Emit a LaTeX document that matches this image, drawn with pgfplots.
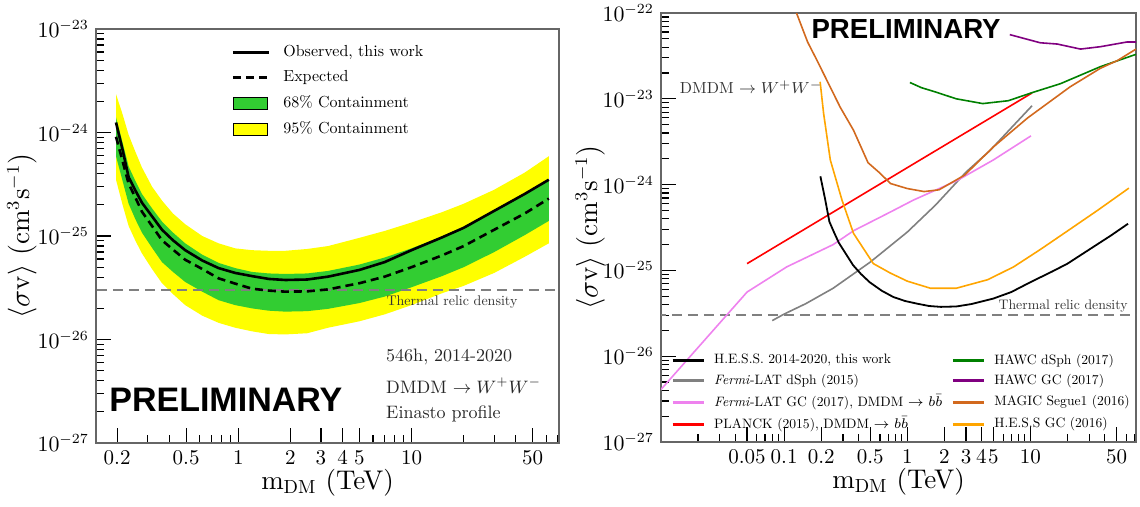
\documentclass[border=0pt]{standalone}
\usepackage{fontspec}
\setmainfont{lmroman10-regular}[Extension=.otf, BoldFont=lmroman10-bold,
  ItalicFont=lmroman10-italic, BoldItalicFont=lmroman10-bolditalic]
\usepackage{pgfplots}
\usepackage{pgfplotstable}
\pgfplotsset{compat=1.18}
\newfontfamily\prelim{Liberation Sans}

\definecolor{hgreen}{RGB}{50,205,50}
\definecolor{hyellow}{RGB}{255,255,0}
\definecolor{relic}{RGB}{128,128,128}
\definecolor{fdsph}{RGB}{128,128,128}
\definecolor{fgc}{RGB}{238,130,238}
\definecolor{planck}{RGB}{255,0,0}
\definecolor{hawcd}{RGB}{0,128,0}
\definecolor{hawcgc}{RGB}{128,0,128}
\definecolor{magic}{RGB}{210,105,30}
\definecolor{hessgc}{RGB}{255,165,0}

% H.E.S.S. limits: observed and expected
\pgfplotstableread{
m     O        E
0.197 1.25e-24 9.1e-25
0.215 6.8e-25  5.3e-25
0.233 3.7e-25  3.2e-25
0.255 2.75e-25 2.35e-25
0.278 2.1e-25  1.72e-25
0.318 1.55e-25 1.25e-25
0.363 1.15e-25 9.1e-26
0.42  9.1e-26  7.4e-26
0.494 7.3e-26  5.9e-26
0.62  5.8e-26  4.8e-26
0.77  4.9e-26  3.9e-26
0.96  4.4e-26  3.47e-26
1.2   4.1e-26  3.1e-26
1.5   3.85e-26 2.97e-26
1.87  3.76e-26 2.9e-26
2.5   3.8e-26  2.92e-26
3.3   4.05e-26 3.05e-26
5     4.7e-26  3.5e-26
7     5.6e-26  4.05e-26
10    7.3e-26  5.0e-26
15    9.7e-26  6.5e-26
20    1.2e-25  8.0e-26
30    1.75e-25 1.15e-25
45    2.55e-25 1.65e-25
62    3.5e-25  2.3e-25
}\hessdata

\pgfplotsset{
  every axis/.append style={
    scale only axis, anchor=south west,
    axis line style={draw=black!60, line width=0.6pt},
    tick align=inside, tick pos=left,
    major tick length=7.5pt, minor tick length=4pt,
    tick style={black, line width=0.6pt},
    tick label style={font=\fontsize{10.5}{12.5}\selectfont},
    label style={font=\fontsize{13.5}{16}\selectfont},
    legend cell align=left,
  },
}

\begin{document}
\begin{tikzpicture}
\useasboundingbox (0,0) rectangle (570pt,253.5pt);

% ---------------- left panel ----------------
\begin{axis}[xmode=log, ymode=log,
  at={(48pt,32pt)}, width=231.5pt, height=207pt,
  xmin=0.151, xmax=71, ymin=1e-27, ymax=1e-23,
  xtick={0.2,0.5,1,2,3,4,5,10,50},
  xticklabels={0.2,0.5,1,2,3,4,5,10,50},
  minor xtick={0.3,0.4,0.6,0.7,0.8,0.9,6,7,8,9,20,30,40,60,70},
  xlabel={$\mathrm{m}_{\mathrm{DM}}$ (TeV)},
  ylabel={$\langle\sigma\mathrm{v}\rangle\ (\mathrm{cm}^3\mathrm{s}^{-1})$},
  xlabel style={at={(axis description cs:0.5,-0.095)}, anchor=center},
  ylabel style={at={(axis description cs:-0.16,0.5)}, anchor=center},
  legend style={draw=none, fill=none, at={(axis description cs:0.279,0.982)},
    anchor=north west, font=\fontsize{8}{9.6}\selectfont, row sep=0.9pt,
    nodes={inner sep=2.3pt},
    /tikz/every odd column/.append style={column sep=4.2pt}},
  legend image code/.code={\draw[#1] (0pt,0pt) -- (18pt,0pt);},
]
\addlegendimage{black, line width=1.4pt}
\addlegendentry{Observed, this work}
\addlegendimage{black, line width=1.4pt, dash pattern=on 4pt off 2.5pt}
\addlegendentry{Expected}
\addlegendimage{area legend, fill=hgreen, draw=none}
\addlegendentry{68\% Containment}
\addlegendimage{area legend, fill=hyellow, draw=none}
\addlegendentry{95\% Containment}

% 95% band
\addplot[fill=hyellow, draw=none, forget plot] coordinates {
 (0.197,2.35e-24) (0.215,1.5e-24) (0.233,9.5e-25) (0.255,6.5e-25) (0.278,4.6e-25)
 (0.318,3.0e-25) (0.363,2.2e-25) (0.42,1.65e-25) (0.494,1.3e-25) (0.62,1.0e-25)
 (0.77,8.5e-26) (0.96,7.6e-26) (1.2,7.3e-26) (1.5,7.2e-26) (1.87,7.2e-26)
 (2.5,7.5e-26) (3.3,8.0e-26) (5,9.6e-26) (7,1.12e-25) (10,1.35e-25)
 (15,1.7e-25) (20,2.05e-25) (30,2.8e-25) (45,4.1e-25) (62,5.9e-25)
 (62,8.5e-26) (45,6.3e-26) (30,4.4e-26) (20,3.3e-26) (15,2.8e-26)
 (10,2.15e-26) (7,1.75e-26) (5,1.5e-26) (3.3,1.3e-26) (2.5,1.15e-26)
 (1.87,1.12e-26) (1.5,1.13e-26) (1.2,1.2e-26) (0.96,1.3e-26) (0.77,1.45e-26)
 (0.62,1.7e-26) (0.494,2.15e-26) (0.42,2.75e-26) (0.363,3.5e-26) (0.318,4.8e-26)
 (0.278,6.8e-26) (0.255,9.0e-26) (0.233,1.25e-25) (0.215,2.0e-25) (0.197,3.5e-25)
} -- cycle;
% 68% band
\addplot[fill=hgreen, draw=none, forget plot] coordinates {
 (0.197,1.4e-24) (0.215,8.0e-25) (0.233,4.7e-25) (0.255,3.4e-25) (0.278,2.55e-25)
 (0.318,1.85e-25) (0.363,1.38e-25) (0.42,1.08e-25) (0.494,8.5e-26) (0.62,6.6e-26)
 (0.77,5.5e-26) (0.96,4.9e-26) (1.2,4.5e-26) (1.5,4.35e-26) (1.87,4.3e-26)
 (2.5,4.35e-26) (3.3,4.6e-26) (5,5.3e-26) (7,6.2e-26) (10,7.6e-26)
 (15,9.9e-26) (20,1.22e-25) (30,1.72e-25) (45,2.5e-25) (62,3.4e-25)
 (62,1.4e-25) (45,1.02e-25) (30,7.0e-26) (20,5.0e-26) (15,4.1e-26)
 (10,3.2e-26) (7,2.6e-26) (5,2.25e-26) (3.3,1.98e-26) (2.5,1.88e-26)
 (1.87,1.86e-26) (1.5,1.9e-26) (1.2,2.0e-26) (0.96,2.15e-26) (0.77,2.4e-26)
 (0.62,2.9e-26) (0.494,3.6e-26) (0.42,4.5e-26) (0.363,5.6e-26) (0.318,7.7e-26)
 (0.278,1.08e-25) (0.255,1.45e-25) (0.233,2.05e-25) (0.215,3.4e-25) (0.197,5.9e-25)
} -- cycle;
\addplot[relic, line width=1.1pt, dash pattern=on 5pt off 3pt, forget plot]
  coordinates {(0.1,3e-26) (100,3e-26)};
\addplot[black, line width=1.3pt, dash pattern=on 4pt off 2.5pt, forget plot]
  table[x=m, y=E] {\hessdata};
\addplot[black, line width=1.3pt, forget plot] table[x=m, y=O] {\hessdata};

\node[anchor=east, inner sep=0pt, font=\fontsize{7}{8}\selectfont, text=black!80]
  at (axis description cs:0.911,0.341) {Thermal relic density};
\node[anchor=west, inner sep=0pt, font=\fontsize{9}{11}\selectfont, text=black!85]
  at (axis description cs:0.626,0.208) {546h, 2014-2020};
\node[anchor=west, inner sep=0pt, font=\fontsize{9}{11}\selectfont, text=black!85]
  at (axis description cs:0.626,0.138) {DMDM $\rightarrow W^{+}W^{-}$};
\node[anchor=west, inner sep=0pt, font=\fontsize{9}{11}\selectfont, text=black!85]
  at (axis description cs:0.626,0.070) {Einasto profile};
\node[anchor=west, inner sep=0pt, font=\prelim\bfseries\fontsize{17}{17}\selectfont]
  at (axis description cs:0.028,0.104) {PRELIMINARY};
\end{axis}

% ---------------- right panel ----------------
\begin{axis}[xmode=log, ymode=log,
  at={(330.5pt,32.5pt)}, width=237.5pt, height=214.5pt,
  xmin=0.01, xmax=72, ymin=1e-27, ymax=1e-22,
  xtick={0.05,0.1,0.2,0.5,1,2,3,4,5,10,50},
  xticklabels={0.05,0.1,0.2,0.5,1,2,3,4,5,10,50},
  minor xtick={0.02,0.03,0.04,0.06,0.07,0.08,0.09,0.3,0.4,0.6,0.7,0.8,0.9,6,7,8,9,20,30,40,60,70},
  xlabel={$\mathrm{m}_{\mathrm{DM}}$ (TeV)},
  ylabel={$\langle\sigma\mathrm{v}\rangle\ (\mathrm{cm}^3\mathrm{s}^{-1})$},
  xlabel style={at={(axis description cs:0.5,-0.093)}, anchor=center},
  ylabel style={at={(axis description cs:-0.149,0.5)}, anchor=center},
  legend columns=2,
  legend style={draw=none, fill=none, at={(axis description cs:0.008,0.224)},
    anchor=north west, font=\fontsize{6.8}{8}\selectfont, row sep=0pt,
    nodes={inner sep=1.8pt},
    /tikz/every odd column/.append style={column sep=2.7pt},
    /tikz/every even column/.append style={column sep=2.7pt}},
  legend image code/.code={\draw[#1, line width=1.5pt] (0pt,0pt) -- (15.5pt,0pt);},
]
\addlegendimage{black}\addlegendentry{H.E.S.S. 2014-2020, this work}
\addlegendimage{hawcd}\addlegendentry{HAWC dSph (2017)}
\addlegendimage{fdsph}\addlegendentry{\textit{Fermi}-LAT dSph (2015)}
\addlegendimage{hawcgc}\addlegendentry{HAWC GC (2017)}
\addlegendimage{fgc}\addlegendentry{\textit{Fermi}-LAT GC (2017), DMDM $\rightarrow b\bar{b}$}
\addlegendimage{magic}\addlegendentry{MAGIC Segue1 (2016)}
\addlegendimage{planck}\addlegendentry{PLANCK (2015), DMDM $\rightarrow b\bar{b}$}
\addlegendimage{hessgc}\addlegendentry{H.E.S.S GC (2016)}

\addplot[relic, line width=1.1pt, dash pattern=on 5pt off 3pt, forget plot]
  coordinates {(0.005,3e-26) (100,3e-26)};
% Fermi-LAT dSph
\addplot[fdsph, line width=0.8pt, forget plot] coordinates {
 (0.08,2.6e-26) (0.1,3.1e-26) (0.15,4.1e-26) (0.25,6.2e-26) (0.5,1.25e-25)
 (1,2.8e-25) (1.7,5.8e-25) (3,1.4e-24) (4.7,2.5e-24) (7,4.6e-24) (10.3,8.3e-24)};
% Fermi-LAT GC
\addplot[fgc, line width=0.8pt, forget plot] coordinates {
 (0.01,4.1e-27) (0.05,5.6e-26) (0.105,1.1e-25) (0.25,2.0e-25) (0.366,2.9e-25)
 (0.73,4.8e-25) (1.12,6.6e-25) (2.55,1.12e-24) (5,1.94e-24) (10.1,3.7e-24)};
% PLANCK
\addplot[planck, line width=0.8pt, forget plot] coordinates {
 (0.05,1.2e-25) (10.3,1.17e-23)};
% HAWC dSph
\addplot[hawcd, line width=0.8pt, forget plot] coordinates {
 (1.05,1.55e-23) (1.3,1.35e-23) (1.7,1.2e-23) (2.5,1.0e-23) (4.1,8.8e-24)
 (6.6,9.5e-24) (10.3,1.18e-23) (17.5,1.5e-23) (37,2.37e-23) (72,3.3e-23)};
% HAWC GC
\addplot[hawcgc, line width=0.8pt, forget plot] coordinates {
 (6.8,5.6e-23) (12,4.5e-23) (16.5,4.35e-23) (25.5,3.8e-23) (37,4.05e-23)
 (61,4.6e-23) (72,4.6e-23)};
% MAGIC Segue 1
\addplot[magic, line width=0.8pt, forget plot] coordinates {
 (0.126,1e-22) (0.155,4.6e-23) (0.185,2.8e-23) (0.222,1.65e-23) (0.285,8e-24)
 (0.366,4.3e-24) (0.48,1.8e-24) (0.6,1.36e-24) (0.73,1.03e-24) (1.0,9.0e-25)
 (1.37,8.3e-25) (1.81,8.7e-25) (2.92,1.29e-24) (5.0,2.75e-24) (9.5,6.0e-24)
 (21,1.38e-23) (37,2.27e-23) (51,2.8e-23) (72,3.8e-23)};
% H.E.S.S. GC
\addplot[hessgc, line width=0.8pt, forget plot] coordinates {
 (0.196,1.58e-23) (0.209,6.8e-24) (0.237,1.94e-24) (0.295,6.6e-25) (0.366,2.7e-25)
 (0.53,1.2e-25) (0.73,9.3e-26) (1.0,7.5e-26) (1.54,6.2e-26) (2.5,6.2e-26)
 (4.5,7.8e-26) (7.3,1.1e-25) (12,1.75e-25) (18.7,2.7e-25) (35,5.0e-25) (63,9.1e-25)};
% H.E.S.S. this work
\addplot[black, line width=0.9pt, forget plot] table[x=m, y=O] {\hessdata};

\node[anchor=east, inner sep=0pt, font=\fontsize{6.9}{8}\selectfont, text=black!80]
  at (axis description cs:0.983,0.317) {Thermal relic density};
\node[anchor=west, inner sep=0pt, font=\fontsize{8}{10}\selectfont, text=black!80]
  at (axis description cs:0.039,0.827) {DMDM $\rightarrow W^{+}W^{-}$};
\node[anchor=west, inner sep=0pt, font=\prelim\bfseries\fontsize{13.8}{13.8}\selectfont]
  at (axis description cs:0.316,0.963) {PRELIMINARY};
\end{axis}
\end{tikzpicture}
\end{document}
